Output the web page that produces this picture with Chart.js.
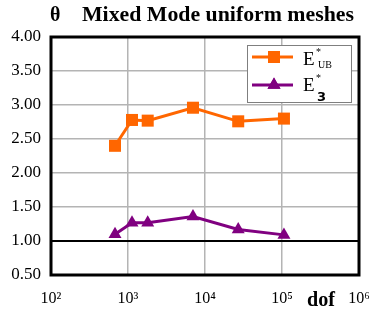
<!DOCTYPE html>
<html><head><meta charset="utf-8">
<script src="https://cdn.jsdelivr.net/npm/chart.js@4"></script>
<style>html,body{margin:0;padding:0;background:#fff}#wrap{width:374px;height:316px}</style>
</head><body><div id="wrap"><canvas id="c" width="374" height="316"></canvas></div>
<script>
// ---- data ----
const dof = [678, 1127, 1803, 6980, 27000, 106000];
const eUB = [2.40, 2.78, 2.77, 2.96, 2.76, 2.80];
const e3  = [1.10, 1.27, 1.27, 1.36, 1.17, 1.09];
const xTicks = [1e2, 1e3, 1e4, 1e5, 1e6];
const xTickLabels = ['10²', '10³', '10⁴', '10⁵', '10⁶'];
const yTicks = [0.5, 1.0, 1.5, 2.0, 2.5, 3.0, 3.5, 4.0];
const titleSymbol = 'θ';
const titleText = 'Mixed Mode uniform meshes';
const xAxisTitle = 'dof';
const seriesNames = ['E*UB', 'E*3'];

const SERIF = '"Liberation Serif", "DejaVu Serif", serif';
const ORANGE = '#FF6600', PURPLE = '#800080';

function stretchedText(ctx, txt, x, y, targetW) {
  const w = ctx.measureText(txt).width;
  ctx.save();
  ctx.translate(x, y);
  ctx.scale(targetW / w, 1);
  ctx.fillText(txt, 0, 0);
  ctx.restore();
}

const decor = {
  id: 'decor',
  afterDraw(chart) {
    const ctx = chart.ctx, a = chart.chartArea;
    ctx.save();
    // plot frame
    ctx.strokeStyle = '#000'; ctx.lineWidth = 3;
    ctx.strokeRect(a.left, a.top, a.right - a.left, a.bottom - a.top);
    // title
    ctx.fillStyle = '#000';
    ctx.textBaseline = 'alphabetic'; ctx.textAlign = 'left';
    ctx.font = 'bold 20px ' + SERIF;
    ctx.fillText(titleSymbol, 50, 21);
    stretchedText(ctx, titleText, 82, 21, 272);
    // axis title
    ctx.font = 'bold 20px ' + SERIF;
    stretchedText(ctx, xAxisTitle, 307, 306, 28);
    // legend
    const lx = 247, ly = 45, lw = 104, lh = 57;
    ctx.fillStyle = '#fff'; ctx.fillRect(lx, ly, lw, lh);
    ctx.strokeStyle = '#7f7f7f'; ctx.lineWidth = 1;
    ctx.strokeRect(lx + 0.5, ly + 0.5, lw, lh);
    const rows = [
      {y: 57, color: ORANGE, style: 'rect', r: 8.5},
      {y: 85, color: PURPLE, style: 'triangle', r: 7.5}
    ];
    rows.forEach(rw => {
      ctx.strokeStyle = rw.color; ctx.lineWidth = 3;
      ctx.beginPath(); ctx.moveTo(252, rw.y); ctx.lineTo(293, rw.y); ctx.stroke();
      ctx.fillStyle = rw.color;
      Chart.helpers.drawPoint(ctx, {pointStyle: rw.style, radius: rw.r, rotation: 0, borderWidth: 0}, 274, rw.y);
      ctx.fill();
    });
    ctx.fillStyle = '#000';
    ctx.font = '19px ' + SERIF;
    ctx.fillText('E', 303, 65);
    ctx.fillText('E', 303, 91);
    ctx.font = '10px ' + SERIF;
    ctx.fillText('*', 316, 55);
    ctx.fillText('*', 316, 81);
    ctx.font = '10px ' + SERIF;
    ctx.fillText('UB', 318, 68);
    ctx.font = 'bold 13px "DejaVu Sans", sans-serif';
    ctx.fillText('3', 317, 101);
    ctx.restore();
  }
};

new Chart(document.getElementById('c'), {
  type: 'line',
  data: {
    datasets: [
      { label: seriesNames[0], data: dof.map((d, i) => ({x: d, y: eUB[i]})),
        borderColor: ORANGE, backgroundColor: ORANGE, borderWidth: 3,
        pointStyle: 'rect', pointRadius: 8.5, pointBorderWidth: 0, tension: 0 },
      { label: seriesNames[1], data: dof.map((d, i) => ({x: d, y: e3[i]})),
        borderColor: PURPLE, backgroundColor: PURPLE, borderWidth: 3,
        pointStyle: 'triangle', pointRadius: 7.5, pointBorderWidth: 0, tension: 0 }
    ]
  },
  options: {
    responsive: false, animation: false,
    layout: { padding: { top: 37, right: 15, left: 0, bottom: 0 } },
    plugins: { legend: { display: false }, title: { display: false }, tooltip: { enabled: false } },
    scales: {
      x: {
        type: 'logarithmic', min: 1e2, max: 1e6,
        afterBuildTicks: s => { s.ticks = xTicks.map(v => ({value: v})); },
        afterFit: s => { s.height = 41; s.paddingLeft = 0; s.paddingRight = 0; },
        ticks: { callback: (v, i) => xTickLabels[i], color: '#000', padding: 14,
                 maxRotation: 0, autoSkip: false, font: { family: SERIF, size: 16 } },
        grid: { color: '#b4b4b4', lineWidth: 1.5, drawTicks: false },
        border: { display: false }
      },
      y: {
        min: 0.5, max: 4,
        afterBuildTicks: s => { s.ticks = yTicks.map(v => ({value: v})); },
        afterFit: s => { s.width = 51; s.paddingTop = 0; s.paddingBottom = 0; },
        ticks: { callback: v => Number(v).toFixed(2), color: '#000', padding: 10,
                 font: { family: SERIF, size: 17 } },
        grid: { color: c => (c.tick && c.tick.value === 1) ? '#000' : '#b4b4b4',
                lineWidth: c => (c.tick && c.tick.value === 1) ? 2 : 1.5, drawTicks: false },
        border: { display: false }
      }
    }
  },
  plugins: [decor]
});
</script>
</body></html>
